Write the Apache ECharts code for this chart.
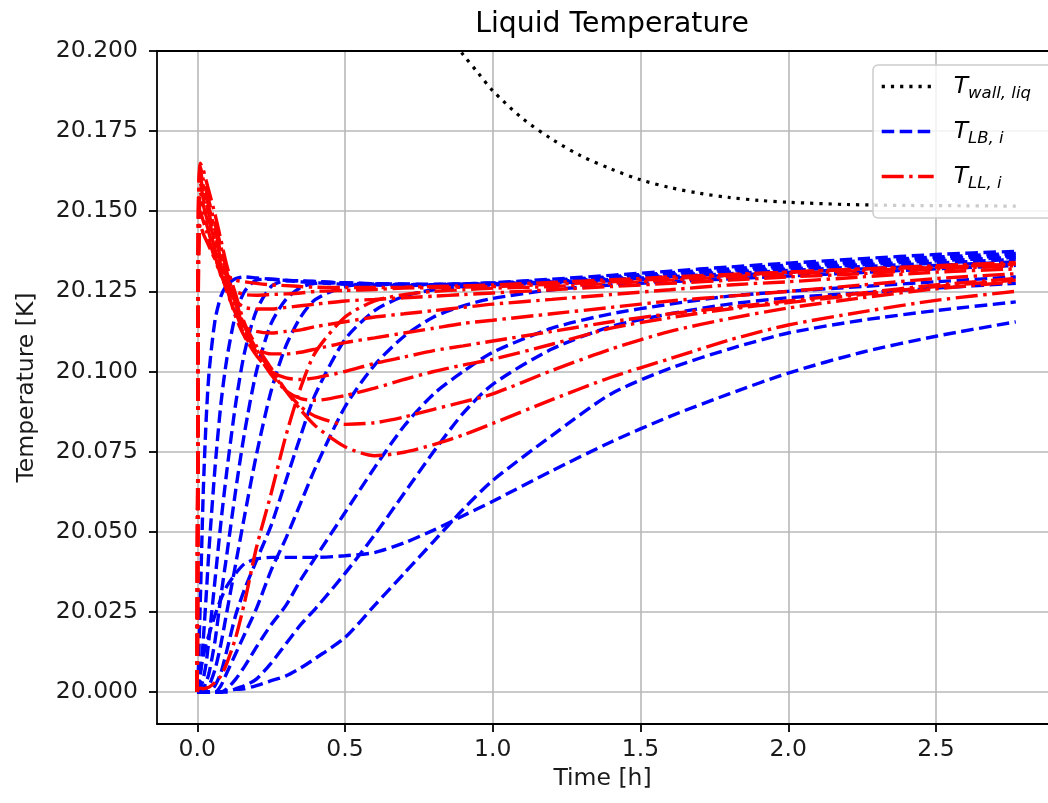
<!DOCTYPE html>
<html><head><meta charset="utf-8">
<script src="https://cdn.jsdelivr.net/npm/echarts@6/dist/echarts.min.js"></script>
<style>html,body{margin:0;padding:0;background:#fff}#c{width:1048px;height:803px}</style>
</head><body><div id="c"></div>
<script>
// time grid [h] shared by the layer curves
const times = [0, 0.004, 0.01, 0.02, 0.03, 0.04, 0.06, 0.08, 0.1, 0.13, 0.16, 0.2, 0.25, 0.3, 0.35, 0.4, 0.5, 0.6, 0.7, 0.8, 0.9, 1.0, 1.2, 1.4, 1.6, 1.8, 2.0, 2.25, 2.5, 2.77];

// wall temperature
const wallTimes = [0.8, 0.85, 0.9, 0.95, 1.0, 1.1, 1.2, 1.3, 1.4, 1.5, 1.6, 1.7, 1.8, 1.9, 2.0, 2.2, 2.4, 2.6, 2.77];
const wallTemp  = [20.211, 20.205, 20.1988, 20.1932, 20.1876, 20.179, 20.1725, 20.1672, 20.1632, 20.1598, 20.1574, 20.1556, 20.1543, 20.1534, 20.1528, 20.1521, 20.1518, 20.1517, 20.1516];

// T_LB,i (blue dashed)
const LB_1  = [20.000, 20.008, 20.028, 20.062, 20.085, 20.100, 20.116, 20.1235, 20.127, 20.129, 20.1295, 20.1292, 20.1288, 20.1284, 20.128, 20.1277, 20.1272, 20.127, 20.1268, 20.127, 20.1273, 20.1277, 20.1288, 20.130, 20.1313, 20.1326, 20.1338, 20.1352, 20.1365, 20.1375];
const LB_2  = [20.000, 20.001, 20.005, 20.016, 20.030, 20.045, 20.070, 20.090, 20.104, 20.118, 20.125, 20.1285, 20.1288, 20.1285, 20.1282, 20.128, 20.1275, 20.1272, 20.127, 20.1271, 20.1273, 20.1276, 20.1285, 20.1296, 20.1308, 20.132, 20.1332, 20.1345, 20.1357, 20.1368];
const LB_3  = [20.000, 20.000, 20.001, 20.004, 20.009, 20.017, 20.035, 20.053, 20.069, 20.090, 20.106, 20.119, 20.1265, 20.1283, 20.1283, 20.1281, 20.1276, 20.1273, 20.1271, 20.1271, 20.1272, 20.1275, 20.1283, 20.1293, 20.1304, 20.1315, 20.1326, 20.1339, 20.1351, 20.1362];
const LB_4  = [20.000, 20.000, 20.000, 20.001, 20.003, 20.006, 20.016, 20.030, 20.043, 20.063, 20.081, 20.100, 20.115, 20.1225, 20.1262, 20.1275, 20.1277, 20.1274, 20.1272, 20.1271, 20.1272, 20.1274, 20.1281, 20.129, 20.130, 20.131, 20.132, 20.1333, 20.1345, 20.1356];
const LB_5  = [20.000, 20.000, 20.000, 20.000, 20.001, 20.002, 20.007, 20.015, 20.025, 20.040, 20.055, 20.074, 20.094, 20.108, 20.117, 20.1225, 20.1265, 20.1273, 20.1273, 20.1272, 20.1272, 20.1273, 20.1279, 20.1287, 20.1296, 20.1305, 20.1315, 20.1327, 20.1338, 20.135];
const LB_6  = [20.000, 20.000, 20.000, 20.000, 20.000, 20.000, 20.002, 20.006, 20.013, 20.024, 20.032, 20.041, 20.052, 20.066, 20.080, 20.093, 20.110, 20.119, 20.1235, 20.1255, 20.1265, 20.127, 20.1276, 20.1283, 20.1291, 20.130, 20.1309, 20.132, 20.1331, 20.1342];
const LB_7  = [20.000, 20.000, 20.000, 20.000, 20.000, 20.000, 20.000, 20.002, 20.006, 20.012, 20.018, 20.026, 20.038, 20.048, 20.059, 20.070, 20.089, 20.102, 20.111, 20.117, 20.1205, 20.1228, 20.1255, 20.127, 20.128, 20.1289, 20.1298, 20.1309, 20.132, 20.1331];
const LB_8  = [20.000, 20.000, 20.000, 20.000, 20.000, 20.000, 20.000, 20.000, 20.001, 20.004, 20.008, 20.014, 20.021, 20.027, 20.035, 20.042, 20.056, 20.070, 20.083, 20.093, 20.100, 20.106, 20.1135, 20.118, 20.121, 20.1235, 20.125, 20.1265, 20.128, 20.1295];
const LB_9  = [20.000, 20.000, 20.000, 20.000, 20.000, 20.000, 20.000, 20.000, 20.000, 20.001, 20.002, 20.004, 20.009, 20.015, 20.021, 20.026, 20.037, 20.049, 20.062, 20.075, 20.087, 20.096, 20.107, 20.114, 20.118, 20.121, 20.123, 20.1245, 20.126, 20.1275];
const LB_10 = [20.000, 20.000, 20.000, 20.000, 20.000, 20.000, 20.000, 20.000, 20.0005, 20.0008, 20.001, 20.002, 20.0035, 20.005, 20.0075, 20.0105, 20.017, 20.027, 20.037, 20.047, 20.057, 20.066, 20.080, 20.093, 20.101, 20.107, 20.112, 20.116, 20.119, 20.1217];
const LB_11 = [20.000, 20.002, 20.006, 20.011, 20.015, 20.018, 20.024, 20.029, 20.033, 20.037, 20.040, 20.0415, 20.042, 20.042, 20.042, 20.042, 20.0425, 20.0435, 20.0465, 20.0505, 20.055, 20.0595, 20.069, 20.078, 20.086, 20.093, 20.0995, 20.106, 20.111, 20.1155];

// T_LL,i (red dash-dot)
const LL_1  = [20.000, 20.001, 20.0012, 20.001, 20.0012, 20.0015, 20.003, 20.005, 20.009, 20.017, 20.028, 20.045, 20.062, 20.080, 20.095, 20.106, 20.117, 20.122, 20.124, 20.125, 20.1255, 20.126, 20.1265, 20.1275, 20.1285, 20.1295, 20.1305, 20.1315, 20.1325, 20.1335];
const LL_2  = [20.000, 20.132, 20.146, 20.143, 20.141, 20.139, 20.135, 20.132, 20.130, 20.1285, 20.128, 20.1275, 20.127, 20.1268, 20.1265, 20.1263, 20.1262, 20.1262, 20.1263, 20.1265, 20.1267, 20.127, 20.1278, 20.1286, 20.1295, 20.1303, 20.131, 20.132, 20.133, 20.134];
const LL_3  = [20.000, 20.135, 20.150, 20.147, 20.144, 20.141, 20.135, 20.130, 20.127, 20.125, 20.124, 20.1238, 20.124, 20.1242, 20.1245, 20.125, 20.1253, 20.1256, 20.126, 20.1262, 20.1263, 20.1265, 20.1272, 20.128, 20.129, 20.130, 20.131, 20.132, 20.1325, 20.1335];
const LL_4  = [20.000, 20.138, 20.153, 20.150, 20.1465, 20.143, 20.136, 20.130, 20.126, 20.122, 20.120, 20.1195, 20.1195, 20.120, 20.1205, 20.121, 20.122, 20.1225, 20.123, 20.1235, 20.124, 20.1245, 20.1255, 20.1265, 20.1275, 20.1285, 20.1295, 20.1305, 20.132, 20.133];
const LL_5  = [20.000, 20.141, 20.156, 20.152, 20.1485, 20.145, 20.138, 20.131, 20.125, 20.118, 20.114, 20.1125, 20.112, 20.1125, 20.113, 20.114, 20.1155, 20.117, 20.118, 20.119, 20.120, 20.121, 20.1225, 20.124, 20.1255, 20.127, 20.128, 20.1295, 20.131, 20.132];
const LL_6  = [20.000, 20.144, 20.159, 20.154, 20.1505, 20.147, 20.140, 20.133, 20.126, 20.117, 20.111, 20.107, 20.1055, 20.1055, 20.106, 20.107, 20.109, 20.1105, 20.112, 20.1135, 20.115, 20.116, 20.118, 20.120, 20.122, 20.1235, 20.125, 20.127, 20.129, 20.1305];
const LL_7  = [20.000, 20.147, 20.161, 20.156, 20.1525, 20.149, 20.142, 20.135, 20.128, 20.119, 20.111, 20.105, 20.100, 20.098, 20.0975, 20.098, 20.100, 20.1025, 20.1045, 20.1065, 20.108, 20.1095, 20.1125, 20.1155, 20.118, 20.120, 20.122, 20.1245, 20.127, 20.129];
const LL_8  = [20.000, 20.150, 20.163, 20.158, 20.1545, 20.151, 20.144, 20.137, 20.130, 20.121, 20.113, 20.106, 20.099, 20.094, 20.0915, 20.091, 20.0925, 20.0948, 20.0975, 20.100, 20.102, 20.1038, 20.1085, 20.1135, 20.1168, 20.1195, 20.1215, 20.124, 20.1265, 20.1285];
const LL_9  = [20.000, 20.152, 20.164, 20.160, 20.1565, 20.153, 20.146, 20.139, 20.131, 20.122, 20.114, 20.107, 20.100, 20.094, 20.089, 20.086, 20.0835, 20.084, 20.0858, 20.0882, 20.0905, 20.093, 20.1003, 20.107, 20.1125, 20.1165, 20.1198, 20.123, 20.1258, 20.128];
const LL_10 = [20.000, 20.153, 20.165, 20.163, 20.1595, 20.156, 20.149, 20.141, 20.133, 20.124, 20.115, 20.108, 20.101, 20.094, 20.088, 20.083, 20.0765, 20.0737, 20.0748, 20.0772, 20.0802, 20.0838, 20.0912, 20.0982, 20.104, 20.1098, 20.1145, 20.1186, 20.1222, 20.125];

// axis ticks
const xTicks = [0, 0.5, 1.0, 1.5, 2.0, 2.5];
const yTicks = [20.000, 20.025, 20.050, 20.075, 20.100, 20.125, 20.150, 20.175, 20.200];

const LB = [LB_1, LB_2, LB_3, LB_4, LB_5, LB_6, LB_7, LB_8, LB_9, LB_10, LB_11];
const LL = [LL_1, LL_2, LL_3, LL_4, LL_5, LL_6, LL_7, LL_8, LL_9, LL_10];

const NAME_WALL = 'T_wall,liq', NAME_LB = 'T_LB,i', NAME_LL = 'T_LL,i';
const pair = (xs, ys) => xs.map((x, i) => [x, ys[i]]);
const FONT = 'DejaVu Sans';
const LW = 3.4;

const series = [];
series.push({
  name: NAME_WALL, type: 'line', data: pair(wallTimes, wallTemp), symbol: 'none', showSymbol: false, smooth: 0.3,
  lineStyle: { color: '#000000', width: 3.2, type: [3.2, 6] }, itemStyle: { color: '#000000' }, z: 3
});
LB.forEach(v => series.push({
  name: NAME_LB, type: 'line', data: pair(times, v), symbol: 'none', showSymbol: false, smooth: 0.25,
  lineStyle: { color: '#0000ff', width: LW, type: [12.5, 5.5] }, itemStyle: { color: '#0000ff' }, z: 3
}));
LL.forEach(v => series.push({
  name: NAME_LL, type: 'line', data: pair(times, v), symbol: 'none', showSymbol: false, smooth: 0.25,
  lineStyle: { color: '#ff0000', width: LW, type: [22, 5.5, 3.4, 5.5] }, itemStyle: { color: '#ff0000' }, z: 4
}));

const legendRich = {
  t: { fontFamily: FONT, fontStyle: 'italic', fontSize: 23.5, color: '#000', lineHeight: 30, verticalAlign: 'middle' },
  s: { fontFamily: FONT, fontStyle: 'italic', fontSize: 16.5, color: '#000', padding: [14, 0, 0, 0], verticalAlign: 'middle' }
};
const legendText = { [NAME_WALL]: '{t|T}{s|wall, liq}', [NAME_LB]: '{t|T}{s|LB, i}', [NAME_LL]: '{t|T}{s|LL, i}' };

const gridLine = { show: true, lineStyle: { color: '#b8b8b8', width: 1.6 } };
const axisLbl = { fontFamily: FONT, fontSize: 23.5, color: '#1a1a1a' };

const option = {
  animation: false,
  backgroundColor: '#ffffff',
  title: {
    text: 'Liquid Temperature', left: 607, top: 6, textAlign: 'center',
    textStyle: { fontFamily: FONT, fontSize: 28.3, fontWeight: 'normal', color: '#000' }
  },
  grid: { left: 157, top: 51, right: 0, bottom: 79 },
  legend: {
    data: [NAME_WALL, NAME_LB, NAME_LL],
    orient: 'vertical', left: 873, top: 65,
    itemWidth: 52, itemHeight: 14, itemGap: 18,
    padding: [10, 70, 26, 7],
    backgroundColor: 'rgba(255,255,255,0.8)', borderColor: '#cccccc', borderWidth: 1.5, borderRadius: 5,
    itemStyle: { opacity: 0, borderWidth: 0 },
    lineStyle: { width: 3.4 },
    formatter: n => legendText[n],
    textStyle: { padding: [0, 0, 0, 15], rich: legendRich },
    selectedMode: false
  },
  xAxis: [{
    type: 'value', min: -0.1364, max: 2.879,
    name: 'Time [h]', nameLocation: 'middle', nameGap: 40,
    nameTextStyle: { fontFamily: FONT, fontSize: 23.5, color: '#1a1a1a' },
    axisLine: { show: true, onZero: false, lineStyle: { color: '#000', width: 1.8 } },
    axisTick: { show: true, length: 8, customValues: xTicks, lineStyle: { color: '#000', width: 1.8 } },
    axisLabel: { ...axisLbl, margin: 14, customValues: xTicks, formatter: v => v.toFixed(1) },
    splitLine: gridLine
  }, {
    type: 'value', position: 'top', min: -0.1364, max: 2.879,
    axisLine: { show: true, onZero: false, lineStyle: { color: '#000', width: 1.8 } },
    axisTick: { show: false }, axisLabel: { show: false }, splitLine: { show: false }
  }],
  yAxis: {
    type: 'value', min: 19.99, max: 20.2,
    name: 'Temperature [K]', nameLocation: 'middle', nameGap: 118, nameRotate: 90,
    nameTextStyle: { fontFamily: FONT, fontSize: 23.5, color: '#1a1a1a' },
    axisLine: { show: true, onZero: false, lineStyle: { color: '#000', width: 1.8 } },
    axisTick: { show: true, length: 8, customValues: yTicks, lineStyle: { color: '#000', width: 1.8 } },
    axisLabel: { ...axisLbl, margin: 19, customValues: yTicks, formatter: v => v.toFixed(3) },
    splitLine: gridLine
  },
  series
};
const chart = echarts.init(document.getElementById('c'), null, { renderer: 'canvas' });
chart.setOption(option);
</script></body></html>
